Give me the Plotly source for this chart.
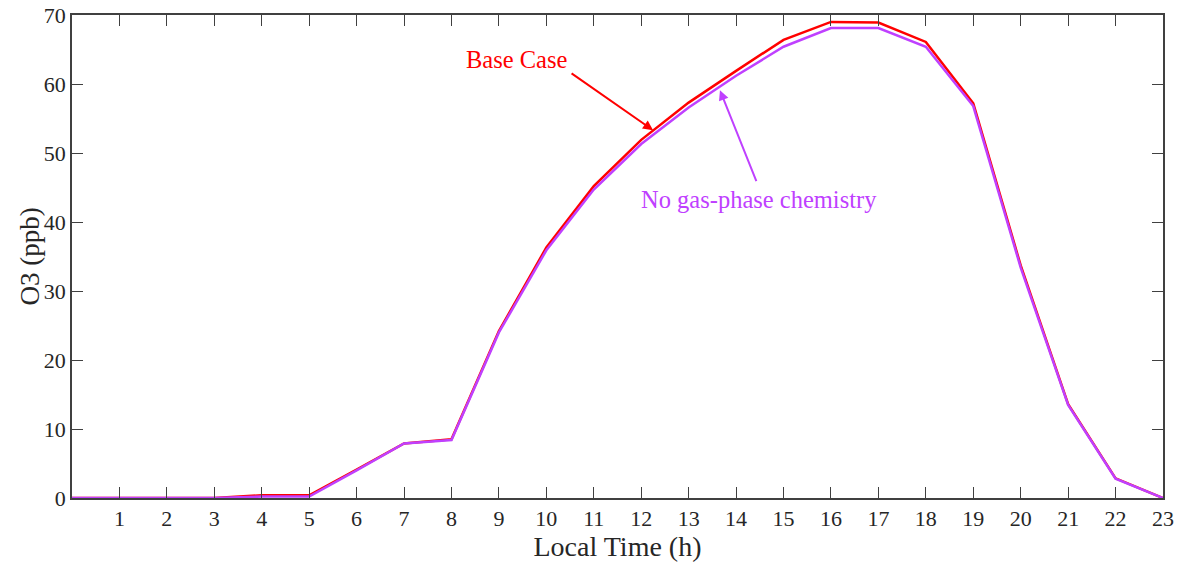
import plotly.graph_objects as go

hours = list(range(0, 24))
base_case = [0, 0, 0, 0, 0.4, 0.4, 4.1, 7.9, 8.5, 24.2, 36.3, 45.2, 51.9, 57.3, 61.9, 66.4,
             69.0, 68.9, 66.1, 57.2, 33.7, 13.6, 2.85, 0]
no_gas = [0, 0, 0, 0, 0.2, 0.2, 4.0, 7.9, 8.4, 24.0, 35.9, 44.7, 51.3, 56.6, 61.2, 65.4,
          68.1, 68.1, 65.4, 56.8, 33.4, 13.5, 2.8, 0]
x_ticks = list(range(1, 24))
y_ticks = list(range(0, 80, 10))

FONT = "Liberation Serif, Times New Roman, serif"
RED = "#FF0000"
PURPLE = "#BF40FF"
AXC = "#404040"

fig = go.Figure()
fig.add_trace(go.Scatter(x=hours, y=base_case, mode="lines", name="Base Case",
                         line=dict(color=RED, width=2.5)))
fig.add_trace(go.Scatter(x=hours, y=no_gas, mode="lines", name="No gas-phase chemistry",
                         line=dict(color=PURPLE, width=2.5)))

fig.update_layout(
    width=1184, height=570,
    margin=dict(l=72, r=21, t=15, b=72),
    plot_bgcolor="white", paper_bgcolor="white",
    showlegend=False,
    font=dict(family=FONT, size=22, color="#262626"),
)
fig.update_xaxes(range=[0, 23], tickvals=x_ticks, ticks="inside", ticklen=11,
                 tickcolor=AXC, tickwidth=1.3, showline=True, linecolor=AXC, linewidth=1.5,
                 mirror="ticks", showgrid=False, zeroline=False, automargin=False,
                 title=dict(text="Local Time (h)", font=dict(size=28), standoff=2),
                 tickfont=dict(size=22), ticklabeloverflow="allow")
fig.update_yaxes(range=[0, 70], tickvals=y_ticks, ticks="inside", ticklen=11,
                 tickcolor=AXC, tickwidth=1.3, showline=True, linecolor=AXC, linewidth=1.5,
                 mirror="ticks", showgrid=False, zeroline=False, automargin=False,
                 tickfont=dict(size=22), ticklabeloverflow="allow")

# y-axis title
fig.add_annotation(x=-0.0385, y=0.5, xref="paper", yref="paper", text="O3 (ppb)",
                   textangle=-90, showarrow=False, xanchor="center", yanchor="middle",
                   font=dict(family=FONT, size=27, color="#262626"))

# arrows
fig.add_annotation(x=12.25, y=53.3, ax=10.5, ay=61.7, axref="x", ayref="y",
                   xref="x", yref="y", text="", showarrow=True,
                   arrowhead=2, arrowsize=1, arrowwidth=2, arrowcolor=RED)
fig.add_annotation(x=13.66, y=59.1, ax=14.44, ay=45.7, axref="x", ayref="y",
                   xref="x", yref="y", text="", showarrow=True,
                   arrowhead=2, arrowsize=1, arrowwidth=2, arrowcolor=PURPLE)
# labels
fig.add_annotation(x=9.38, y=63.6, xref="x", yref="y", text="Base Case", showarrow=False,
                   font=dict(family=FONT, size=24.5, color=RED))
fig.add_annotation(x=14.48, y=43.2, xref="x", yref="y", text="No gas-phase chemistry",
                   showarrow=False, font=dict(family=FONT, size=24.5, color=PURPLE))

fig.write_html("out.html", config={"displayModeBar": False},
               post_script="document.body.style.margin='0';")
